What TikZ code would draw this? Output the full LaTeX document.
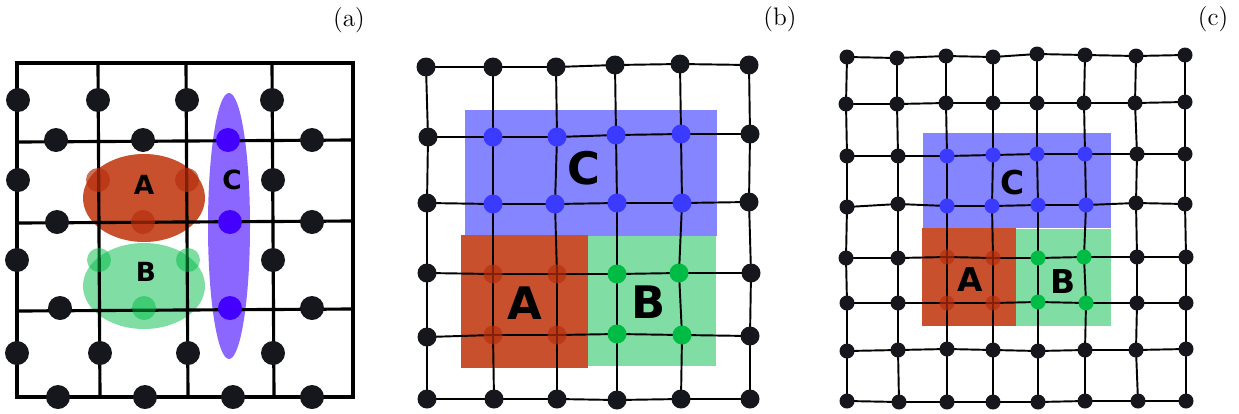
\documentclass[tikz,border=0pt]{standalone}
\usepackage{fontspec}
\usepackage{xcolor}
\usepackage{tikz}
\newfontfamily\regionfont{DejaVu Sans}
\definecolor{latblack}{HTML}{16161D}
\definecolor{regred}{HTML}{C8502D}
\definecolor{regreddot}{HTML}{B8300E}
\definecolor{reggreen}{HTML}{80DEA5}
\definecolor{reggreendot}{HTML}{00BB44}
\definecolor{regblue}{HTML}{8585FF}
\definecolor{regbluedot}{HTML}{3B3BFF}
\definecolor{regviolet}{HTML}{8B66FF}
\definecolor{regvioletdot}{HTML}{4400FF}
\tikzset{
  bead/.style={circle, inner sep=0pt, minimum size=0.38cm},
  beadk/.style={bead, fill=latblack},
  beadr/.style={bead, fill=regreddot, fill opacity=0.7},
  beadg/.style={bead, fill=reggreendot},
  beadt/.style={bead, fill=reggreendot, fill opacity=0.5},
  beadb/.style={bead, fill=regbluedot},
  beadv/.style={bead, fill=regvioletdot},
  latline/.style={draw=black, line width=1.1pt},
  regionlabel/.style={font=\regionfont\bfseries\fontsize{#1}{#1}\selectfont, inner sep=0pt},
  paneltag/.style={font=\fontsize{14.4}{17}\selectfont, inner sep=0pt}
}
\begin{document}
\begin{tikzpicture}[x=0.02cm, y=-0.02cm]
\useasboundingbox (0,0) rectangle (1239,413);
\node[paneltag] (tag-a) at (349,20) {(a)};
\node[paneltag] (tag-b) at (780,19) {(b)};
\node[paneltag] (tag-c) at (1213,19) {(c)};

\begin{scope}[bead/.append style={minimum size=0.48cm}, latline/.append style={line width=1.8pt}]
\fill[regred] (144,198) ellipse [x radius=61, y radius=44];
\fill[reggreen] (144,286) ellipse [x radius=61, y radius=43];
\fill[regviolet] (229,226) ellipse [x radius=21, y radius=133];
\draw[latline] (17,63) rectangle (353,397);
\draw[latline] (98,63) -- (100,397) (186,63) -- (188,397) (272,63) -- (274,397)
  (17,142) -- (353,140) (17,223) -- (353,221) (17,311) -- (353,309);
\foreach \x/\y/\k [count=\i] in {18/100/k, 98/100/k, 187/100/k, 272/100/k,
  56/140/k, 143/140/k, 228/140/v, 312/140/k,
  18/180/k, 98/180/r, 187/180/r, 273/180/k,
  57/222/k, 143/222/r, 230/222/v, 312/222/k,
  17/260/k, 99/260/t, 188/260/t, 273/260/k,
  60/308/k, 144/308/t, 230/308/v, 312/308/k,
  17/353/k, 100/353/k, 188/353/k, 273/353/k,
  58/397/k, 145/397/k, 233/397/k, 312/397/k}
  \node[bead\k] (a-\i) at (\x,\y) {};
\node[regionlabel=15] (lbl-a-A) at (144,185) {A};
\node[regionlabel=15] (lbl-a-B) at (146,272) {B};
\node[regionlabel=15] (lbl-a-C) at (232,180) {C};
\end{scope}

\begin{scope}[bead/.append style={minimum size=0.38cm}]
\fill[regblue] (465,110) rectangle (717,236);
\fill[regred] (461,235) rectangle (588,368);
\fill[reggreen] (588,236) rectangle (716,366);
\foreach \row [count=\r] in {
  {426/67,493/67,556/67,615/65,680/64,749/65},
  {428/137,493/137,557/137,616/135,681/134,750/134},
  {427/203,493/204,555/204,617/203,682/203,749/202},
  {427/273,493/274,557/274,617/274,679/273,751/273},
  {427/337,493/335,557/335,617/334,682/335,750/336},
  {427/399,494/399,557/399,617/400,681/399,750/399}}
  \foreach \x/\y [count=\c] in \row
    \coordinate (b-\r-\c) at (\x,\y);
\foreach \r in {1,...,6}
  \foreach \c [count=\n from 2] in {1,...,5} {
    \draw[latline] (b-\r-\c) -- (b-\r-\n);
    \draw[latline] (b-\c-\r) -- (b-\n-\r);
  }
\foreach \kinds [count=\r] in {{k,k,k,k,k,k},{k,b,b,b,b,k},{k,b,b,b,b,k},
  {k,r,r,g,g,k},{k,r,r,g,g,k},{k,k,k,k,k,k}}
  \foreach \k [count=\c] in \kinds
    \node[bead\k] (bd-\r-\c) at (b-\r-\c) {};
\node[regionlabel=25.5] (lbl-b-C) at (584,168) {C};
\node[regionlabel=25.5] (lbl-b-A) at (525,303) {A};
\node[regionlabel=25.5] (lbl-b-B) at (649,302) {B};
\end{scope}

\begin{scope}[bead/.append style={minimum size=0.3cm}]
\fill[regblue] (923,133) rectangle (1111,228);
\fill[regred] (922,228) rectangle (1016,326);
\fill[reggreen] (1016,229) rectangle (1111,326);
\foreach \row [count=\r] in {
  {847/57,897/58,946/56,993/57,1037/54,1085/55,1136/56,1185/55},
  {846/104,897/104,946/103,993/103,1037/103,1084/103,1135/103,1185/102},
  {847/156,898/156,947/156,993/155,1037/154,1085/154,1137/154,1185/154},
  {847/207,898/204,947/206,992/206,1038/205,1086/205,1136/203,1185/204},
  {846/258,898/258,947/257,993/258,1038/258,1084/257,1137/257,1186/257},
  {847/303,898/303,947/303,993/303,1038/302,1086/303,1137/303,1186/303},
  {847/351,898/350,947/349,993/350,1038/351,1085/350,1136/350,1186/349},
  {847/401,899/402,947/402,993/402,1038/402,1085/401,1138/401,1186/401}}
  \foreach \x/\y [count=\c] in \row
    \coordinate (c-\r-\c) at (\x,\y);
\foreach \r in {1,...,8}
  \foreach \c [count=\n from 2] in {1,...,7} {
    \draw[latline] (c-\r-\c) -- (c-\r-\n);
    \draw[latline] (c-\c-\r) -- (c-\n-\r);
  }
\foreach \kinds [count=\r] in {{k,k,k,k,k,k,k,k},{k,k,k,k,k,k,k,k},
  {k,k,b,b,b,b,k,k},{k,k,b,b,b,b,k,k},{k,k,r,r,g,g,k,k},{k,k,r,r,g,g,k,k},
  {k,k,k,k,k,k,k,k},{k,k,k,k,k,k,k,k}}
  \foreach \k [count=\c] in \kinds
    \node[bead\k] (cd-\r-\c) at (c-\r-\c) {};
\node[regionlabel=18.7] (lbl-c-C) at (1013,183) {C};
\node[regionlabel=18.7] (lbl-c-A) at (970,280) {A};
\node[regionlabel=18.7] (lbl-c-B) at (1063,282) {B};
\end{scope}
\end{tikzpicture}
\end{document}
